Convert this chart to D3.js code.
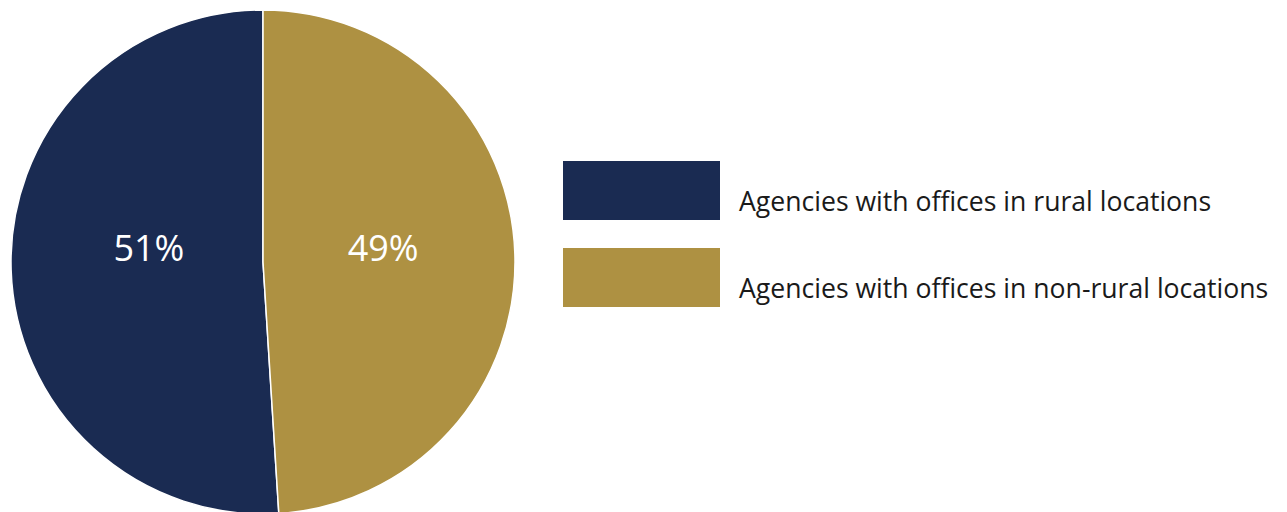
<!DOCTYPE html>
<html><head><meta charset="utf-8">
<script src="https://cdn.jsdelivr.net/npm/d3@7"></script>
<style>body{margin:0;background:#fff;}svg{display:block;}</style>
</head><body>
<svg id="chart" width="1287" height="512"></svg>
<script>
const categories = ["Agencies with offices in rural locations", "Agencies with offices in non-rural locations"];
const values = [51, 49];
const labels = ["51%", "49%"];
const colors = ["#1a2b52", "#ae9142"];

const svg = d3.select("#chart");
const cx = 263, cy = 262, r = 252;
const pie = d3.pie().sort(null).value(d => d.v)
  .startAngle(2*Math.PI).endAngle(0);
const data = categories.map((c,i)=>({c, v: values[i], l: labels[i], col: colors[i]}));
const arcs = pie(data);
const arc = d3.arc().innerRadius(0).outerRadius(r);
const g = svg.append("g").attr("transform", `translate(${cx},${cy})`);
g.selectAll("path").data(arcs).join("path")
  .attr("d", arc).attr("fill", d => d.data.col)
  .attr("stroke", "#fff").attr("stroke-width", 1.5);
const labelArc = d3.arc().innerRadius(r*0.465).outerRadius(r*0.465);
g.selectAll("text").data(arcs).join("text")
  .attr("x", d => labelArc.centroid(d)[0] + 3).attr("y", -1)
  .attr("text-anchor", "middle")
  .attr("fill", "#fff").attr("font-family", "Open Sans, sans-serif").attr("font-size", 36)
  .text(d => d.data.l);

const lg = svg.append("g");
const ly = d3.scaleBand().domain(categories).range([161, 307]).paddingInner(0.322);
categories.forEach((c,i)=>{
  lg.append("rect").attr("x", 563).attr("y", ly(c)).attr("width", 157).attr("height", ly.bandwidth()).attr("fill", colors[i]);
  lg.append("text").attr("x", 739).attr("y", ly(c) + 50).attr("font-family", "Open Sans, sans-serif")
    .attr("font-size", 26.6).attr("fill", "#1a1a1a").text(c);
});
</script>
</body></html>
